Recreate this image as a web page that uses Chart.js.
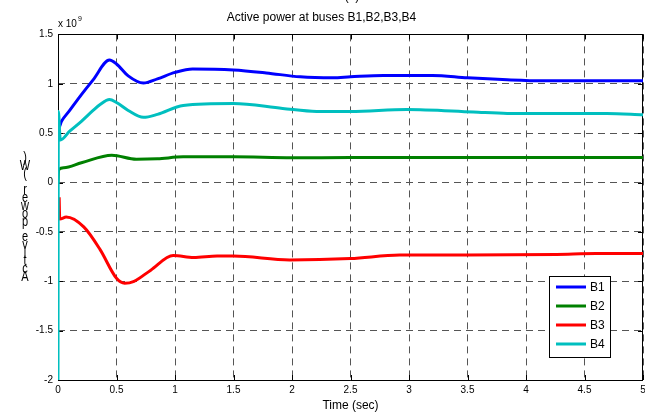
<!DOCTYPE html>
<html><head><meta charset="utf-8">
<script src="https://cdn.jsdelivr.net/npm/chart.js@4.4.1/dist/chart.umd.min.js"></script>
<style>html,body{margin:0;padding:0;background:#fff;}#wrap{width:645px;height:413px;}</style>
</head><body><div id="wrap"><canvas id="c" width="645" height="413"></canvas></div>
<script>
// ---- data (power in units of 10^9 W) ----
const chartTitle = 'Active power at buses B1,B2,B3,B4';
const panelLabel = '(a)';
const xTitle = 'Time (sec)';
const yTitle = 'Active power (W)';
const yExponent = '9';
const seriesNames = ['B1', 'B2', 'B3', 'B4'];
const seriesColors = ['#0000ff', '#008000', '#ff0000', '#00bfbf'];

const b1Time  = [0, 0.004, 0.03, 0.1, 0.2, 0.3, 0.44, 0.5, 0.6, 0.73, 0.85, 1.0, 1.15, 1.5, 1.78, 2.07, 2.35, 2.5, 2.78, 3.2, 3.5, 3.84, 4.15, 5.0];
const b1Power = [0.69, 0.55, 0.62, 0.73, 0.89, 1.04, 1.24, 1.2, 1.08, 1.007, 1.05, 1.115, 1.15, 1.14, 1.11, 1.07, 1.06, 1.07, 1.085, 1.085, 1.06, 1.04, 1.03, 1.03];

const b2Time  = [0, 0.005, 0.05, 0.2, 0.46, 0.67, 0.85, 1.07, 1.5, 2.0, 2.5, 3.0, 4.0, 5.0];
const b2Power = [0.0, 0.13, 0.15, 0.2, 0.276, 0.235, 0.24, 0.26, 0.26, 0.25, 0.253, 0.253, 0.253, 0.253];

const b3Time  = [0.01, 0.015, 0.07, 0.22, 0.36, 0.5, 0.57, 0.65, 0.79, 0.985, 1.16, 1.36, 1.5, 1.98, 2.5, 2.92, 3.5, 4.26, 4.6, 5.0];
const b3Power = [-0.15, -0.37, -0.35, -0.45, -0.68, -0.97, -1.02, -1.0, -0.89, -0.74, -0.76, -0.745, -0.745, -0.785, -0.77, -0.735, -0.733, -0.728, -0.72, -0.72];

const b4Time  = [0, 0.003, 0.02, 0.1, 0.2, 0.3, 0.36, 0.44, 0.5, 0.6, 0.73, 0.85, 1.07, 1.5, 1.92, 2.21, 2.5, 2.98, 3.55, 3.84, 4.69, 5.0];
const b4Power = [-2.0, 0.72, 0.43, 0.52, 0.62, 0.73, 0.79, 0.84, 0.81, 0.73, 0.66, 0.69, 0.78, 0.80, 0.75, 0.72, 0.72, 0.74, 0.714, 0.70, 0.70, 0.685];

const xTicks = [0, 0.5, 1, 1.5, 2, 2.5, 3, 3.5, 4, 4.5, 5];
const yTicks = [-2, -1.5, -1, -0.5, 0, 0.5, 1, 1.5];

const seriesTimes = [b1Time, b2Time, b3Time, b4Time];
const seriesPowers = [b1Power, b2Power, b3Power, b4Power];

// ---- chart ----
const FONT = "'Liberation Sans', Arial, Helvetica, sans-serif";
Chart.defaults.font.family = FONT;
Chart.defaults.color = '#000';

const datasets = seriesNames.map((name, i) => ({
  label: name,
  data: seriesTimes[i].map((t, k) => ({ x: t, y: seriesPowers[i][k] })),
  borderColor: seriesColors[i],
  backgroundColor: seriesColors[i],
  borderWidth: 3,
  pointRadius: 0,
  cubicInterpolationMode: 'monotone',
  fill: false,
  order: seriesNames.length - i
}));

const framePlugin = {
  id: 'frame',
  beforeDatasetsDraw(chart) {
    const { ctx, chartArea: a, scales: { x, y } } = chart;
    ctx.save();
    ctx.strokeStyle = '#000';
    ctx.lineWidth = 1;
    ctx.beginPath();
    ctx.rect(Math.round(a.left) + 0.5, Math.round(a.top) + 0.5, Math.round(a.right - a.left) - 1, Math.round(a.bottom - a.top));
    ctx.stroke();
    const tl = 5;
    ctx.beginPath();
    xTicks.forEach(v => {
      const px = Math.round(x.getPixelForValue(v)) + 0.5;
      ctx.moveTo(px, a.bottom); ctx.lineTo(px, a.bottom - tl);
      ctx.moveTo(px, a.top); ctx.lineTo(px, a.top + tl);
    });
    yTicks.forEach(v => {
      const py = Math.round(y.getPixelForValue(v)) + 0.5;
      ctx.moveTo(a.left, py); ctx.lineTo(a.left + tl, py);
      ctx.moveTo(a.right, py); ctx.lineTo(a.right - tl, py);
    });
    ctx.stroke();
    ctx.restore();
  },
  afterDraw(chart) {
    const { ctx, chartArea: a } = chart;
    ctx.save();
    ctx.fillStyle = '#000';
    // exponent label
    ctx.font = '10px ' + FONT;
    ctx.textAlign = 'left';
    ctx.textBaseline = 'alphabetic';
    ctx.fillText('x 10', a.left, 27);
    const w = ctx.measureText('x 10').width;
    ctx.font = '7px ' + FONT;
    ctx.fillText(yExponent, a.left + w + 1, 21);
    // panel label (cut off at top)
    ctx.font = '12px ' + FONT;
    ctx.textAlign = 'center';
    ctx.fillText(panelLabel, 352, 0);
    // y title, stacked upright glyphs (as in the reference)
    ctx.font = '11px ' + FONT;
    ctx.textAlign = 'center';
    ctx.textBaseline = 'middle';
    const chars = Array.from(yTitle);
    chars.forEach((ch, i) => {
      ctx.save();
      ctx.translate(25, 277 - i * 7.93);
      ctx.scale(1, 1.35);
      ctx.fillText(ch, 0, 0);
      ctx.restore();
    });
    // legend
    const lx = 549, ly = 276, lw = 61, lh = 81;
    ctx.fillStyle = '#fff';
    ctx.fillRect(lx, ly, lw, lh);
    ctx.strokeStyle = '#000';
    ctx.lineWidth = 1;
    ctx.strokeRect(lx + 0.5, ly + 0.5, lw, lh);
    ctx.font = '12px ' + FONT;
    ctx.textAlign = 'left';
    ctx.textBaseline = 'middle';
    chart.data.datasets.forEach((ds, i) => {
      const yy = 287 + i * 19;
      ctx.strokeStyle = ds.borderColor;
      ctx.lineWidth = 3;
      ctx.beginPath();
      ctx.moveTo(556, yy); ctx.lineTo(586, yy);
      ctx.stroke();
      ctx.fillStyle = '#000';
      ctx.fillText(ds.label, 590, yy + 1);
    });
    ctx.restore();
  }
};

new Chart(document.getElementById('c'), {
  type: 'line',
  data: { datasets },
  plugins: [framePlugin],
  options: {
    responsive: false,
    animation: false,
    devicePixelRatio: 1,
    layout: { padding: { left: 0, right: 2, top: 0, bottom: 0 } },
    plugins: {
      legend: { display: false },
      tooltip: { enabled: false },
      title: {
        display: true, text: chartTitle, color: '#000',
        font: { size: 12, weight: 'normal', family: FONT, lineHeight: 1.2 },
        padding: { top: 10, bottom: 10 }
      }
    },
    scales: {
      x: {
        type: 'linear', min: 0, max: 5,
        afterBuildTicks: s => { s.ticks = xTicks.map(v => ({ value: v })); },
        afterFit: s => { s.height = 33; s.paddingLeft = 0; s.paddingRight = 0; },
        ticks: { font: { size: 10 }, color: '#000', padding: 4, maxRotation: 0, autoSkip: false, callback: v => String(v) },
        grid: { color: '#555', lineWidth: 1, drawTicks: false },
        border: { display: false, dash: [7, 5] },
        title: { display: true, text: xTitle, color: '#000', font: { size: 12, lineHeight: 1.2 }, padding: { top: 0, bottom: 0 } }
      },
      y: {
        type: 'linear', min: -2, max: 1.5,
        afterBuildTicks: s => { s.ticks = yTicks.map(v => ({ value: v })); },
        afterFit: s => { s.width = 58; },
        ticks: { font: { size: 10 }, color: '#000', padding: 5, autoSkip: false, callback: v => String(v) },
        grid: { color: '#555', lineWidth: 1, drawTicks: false },
        border: { display: false, dash: [7, 5] }
      }
    }
  }
});
</script>
</body></html>
